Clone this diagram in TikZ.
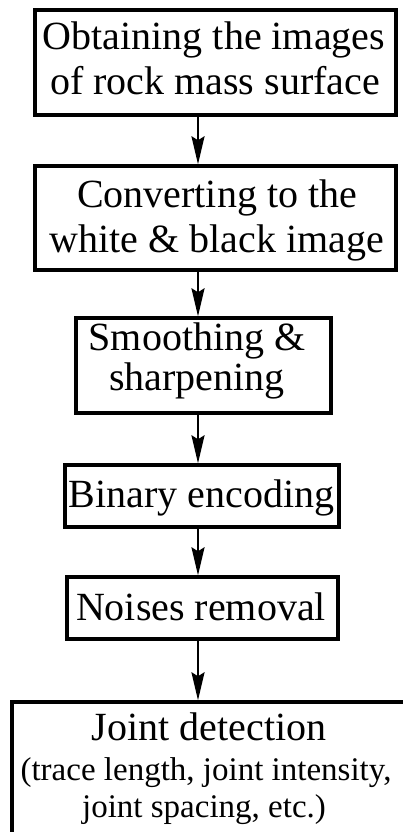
\documentclass[tikz,border=0pt]{standalone}
\usepackage{fontspec}
\setmainfont{Liberation Serif}
\usetikzlibrary{arrows.meta}
\begin{document}
\begin{tikzpicture}[x=1pt,y=-1pt,
  stage/.style={draw, line width=3.4pt, rectangle, inner sep=0pt},
  txt/.style={anchor=base, inner sep=0pt, font=\fontsize{40}{45}\selectfont},
  small/.style={anchor=base, inner sep=0pt, font=\fontsize{33}{38}\selectfont},
  flow/.style={line width=2.4pt, -{Stealth[length=28pt,width=13pt,inset=4pt]}}]
\useasboundingbox (0,0) rectangle (402,832);
\fill[white] (0,0) rectangle (402,832);

% process boxes
\node[stage, minimum width=361pt, minimum height=105pt] (b1) at (215.5,62.5) {};
\node[stage, minimum width=361pt, minimum height=104pt] (b2) at (215.5,218) {};
\node[stage, minimum width=255pt, minimum height=95pt]  (b3) at (203.5,365.5) {};
\node[stage, minimum width=274pt, minimum height=62pt]  (b4) at (202,496) {};
\node[stage, minimum width=271pt, minimum height=62pt]  (b5) at (202.5,608) {};
\node[stage, minimum width=400pt, minimum height=148pt] (b6) at (212,776) {};

% box texts
\node[txt] (t1a) at (214,50)  {Obtaining the images};
\node[txt] (t1b) at (215,95)  {of rock mass surface};
\node[txt] (t2a) at (217,207) {Converting to the};
\node[txt] (t2b) at (217,252) {white \& black image};
\node[txt] (t3a) at (197,350) {Smoothing \&};
\node[txt] (t3b) at (197,390) {sharpening};
\node[txt] (t4)  at (201.5,507) {Binary encoding};
\node[txt] (t5)  at (201,620) {Noises removal};
\node[txt]   (t6a) at (209,740) {Joint detection};
\node[small] (t6b) at (206,780) {(trace length, joint intensity,};
\node[small] (t6c) at (204,817) {joint spacing, etc.)};

% connectors
\coordinate (ax) at (198,0);
\draw[flow] (b1.south -| ax) -- (b2.north -| ax);
\draw[flow] (b2.south -| ax) -- (b3.north -| ax);
\draw[flow] (b3.south -| ax) -- (b4.north -| ax);
\draw[flow] (b4.south -| ax) -- (b5.north -| ax);
\draw[flow] (b5.south -| ax) -- (b6.north -| ax);
\end{tikzpicture}
\end{document}
